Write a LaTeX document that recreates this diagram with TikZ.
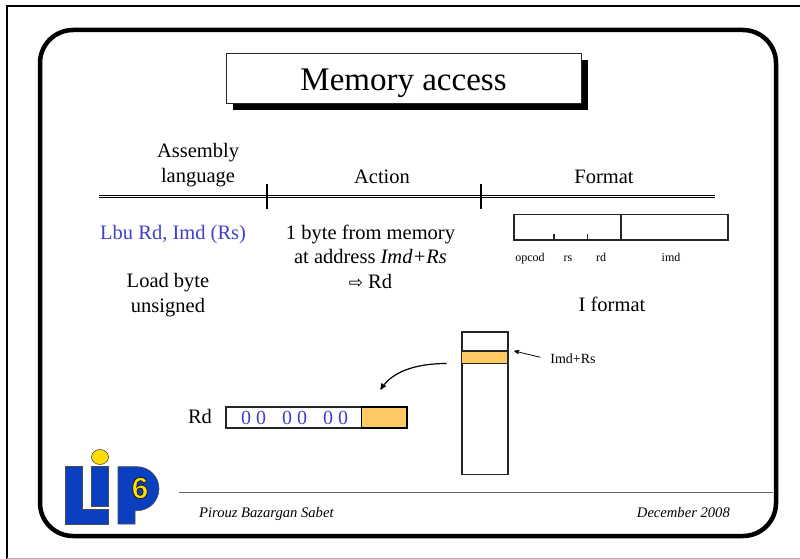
\documentclass[tikz,border=0pt]{standalone}
\usepackage{fontspec}
\setmainfont{Liberation Serif}
\newfontfamily\symfont{DejaVu Sans}
\newfontfamily\logofont{Liberation Sans}
\usepackage{xcolor}
\definecolor{lipblue}{rgb}{0.04, 0.25, 0.75}
\definecolor{lipyellow}{rgb}{1.00, 0.87, 0.00}
\definecolor{cellfill}{rgb}{1.00, 0.79, 0.39}
\definecolor{instr}{rgb}{0.25, 0.25, 0.80}
\usetikzlibrary{calc,arrows}

\begin{document}
\begin{tikzpicture}[x=1pt,y=-1pt,
    txt/.style={font=\fontsize{20.5}{24.5}\selectfont,inner sep=0pt,anchor=base,align=center},
    tiny/.style={font=\fontsize{12}{14}\selectfont,inner sep=0pt,anchor=base},
    foot/.style={font=\fontsize{14.6}{16}\selectfont\itshape,inner sep=0pt,anchor=base},
    box/.style={draw=black!85,line width=1.6pt,inner sep=0pt,outer sep=0pt,anchor=north west},
    logo/.style={fill=lipblue,draw=black!70,line width=0.6pt}]
  \useasboundingbox (0,0) rectangle (800,559);
  \fill[white] (0,0) rectangle (800,559);

  % outer frame
  \draw[black,line width=2pt] (6.5,559) -- (6.5,6.5) -- (800,6.5);
  \draw[black!30,line width=1pt] (6.5,558) -- (800,558);
  \draw[black,line width=4.5pt,rounded corners=33pt] (40,30) rectangle (776,536);

  % title
  \fill[black] (233,60) rectangle (588,110);
  \node[draw=black!85,fill=white,line width=1pt,inner sep=0pt,outer sep=0pt,minimum width=355pt,minimum height=50pt,
    anchor=north west] (title) at (226.5,54) {};
  \node[font=\fontsize{33}{36}\selectfont,inner sep=0pt,anchor=base] (titletxt) at (403.5,91) {Memory access};

  % table head
  \node[txt] (asm) at (198,182) {Assembly\\language};
  \node[txt] (act) at (382,183) {Action};
  \node[txt] (fmt) at (604,183) {Format};
  \draw[black,line width=0.8pt] (99,195.5) -- (715,195.5);
  \draw[black,line width=0.8pt] (99,197.5) -- (715,197.5);
  \draw[black,line width=2pt] (266.5,184) -- (266.5,209);
  \draw[black,line width=2pt] (480.5,184) -- (480.5,209);

  % instruction
  \node[txt,text=instr,anchor=base west] (lbu) at (100,239) {Lbu Rd, Imd (Rs)};
  \node[txt] (load) at (168,312) {Load byte\\unsigned};
  \node[txt] (desc) at (370.5,288) {1 byte from memory\\at address \textit{Imd+Rs}\\{\symfont\fontsize{17}{15}\selectfont ⇨} Rd};

  % format
  \node[box,minimum width=214pt,minimum height=25.5pt] (word) at (514,214.5) {};
  \draw[black!85,line width=1.6pt] (621,214.5) -- (621,240);
  \draw[black!85,line width=1.2pt] (554,234) -- (554,240);
  \draw[black!85,line width=1.2pt] (587.5,234) -- (587.5,240);
  \node[tiny] (opcod) at (530,261) {opcod};
  \node[tiny] (rs) at (568,261) {rs};
  \node[tiny] (rd) at (601,261) {rd};
  \node[tiny] (imd) at (671,261) {imd};
  \node[txt] (ifmt) at (612,311) {I format};

  % memory
  \node[box,minimum width=46pt,minimum height=142.5pt] (mem) at (461.7,332) {};
  \node[box,fill=cellfill,minimum width=46pt,minimum height=12.5pt,line width=1.1pt] (cell) at (461.7,351) {};
  \node[font=\fontsize{14}{16}\selectfont,inner sep=0pt,anchor=base] (imdrs) at (573,363) {Imd+Rs};
  \coordinate (imdrsout) at ($(imdrs.west)+(-10,-1)$);
  \coordinate (cellout) at ($(cell.north east)+(6.5,0)$);
  \draw[-stealth',line width=0.8pt] (imdrsout) -- (cellout);

  % register
  \node[txt,anchor=base] (rdname) at (200,423) {Rd};
  \node[box,minimum width=181pt,minimum height=21.3pt] (reg) at (226,406.7) {};
  \node[box,draw=black,fill=cellfill,minimum width=45.5pt,minimum height=21.3pt] (byte) at (361.5,406.7) {};
  \node[font=\fontsize{20}{22}\selectfont,text=instr,inner sep=0pt,anchor=base] (zeros) at (294.5,424) {0 0\hspace{16pt}0 0\hspace{16pt}0 0};
  \coordinate (cellleft) at ($(cell.south west)+(-15,0)$);
  \coordinate (byteup) at ($(byte.north west)+(19,-17)$);
  \draw[-stealth',line width=1.2pt] (cellleft) .. controls (415,363.5) and (392,372) .. (byteup);

  % footer
  \draw[black!60,line width=1pt] (179,492.5) -- (773,492.5);
  \node[foot,anchor=base west] (author) at (199,517) {Pirouz Bazargan Sabet};
  \node[foot,anchor=base east] (date) at (730,517) {December 2008};

  % logo
  \draw[logo] (65,466.7) -- (82,466.7) -- (82,509.3) -- (108,509.3) -- (108,524) -- (65,524) -- cycle;
  \draw[logo] (91.7,466.7) rectangle (108.7,506);
  \draw[draw=black!70,fill=lipyellow,line width=0.6pt] (100,457) ellipse (8.5 and 7.5);
  \draw[logo] (118,466.7) -- (137,466.7) arc (-90:90:22) -- (135,510.7) -- (135,524) -- (118,524) -- cycle;
  \node[font=\fontsize{30}{30}\selectfont\logofont\bfseries,text=lipyellow,inner sep=0pt] (six) at (140,488)
    {\special{pdf:code q 2 Tr 0.8 w 0.1 G}6\special{pdf:code 0 Tr Q}};
\end{tikzpicture}
\end{document}
